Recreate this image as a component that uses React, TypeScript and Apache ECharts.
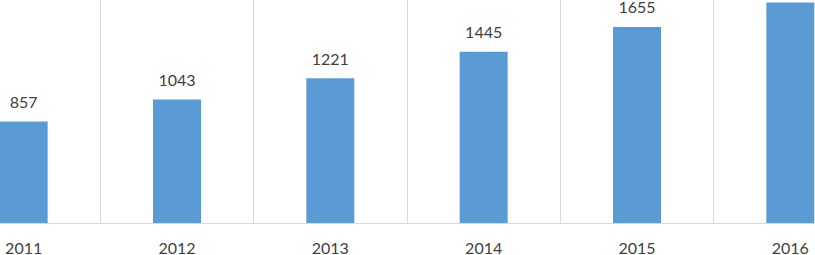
import React, { useEffect, useRef } from "react";
import * as echarts from "echarts";

const categories = ["2011", "2012", "2013", "2014", "2015", "2016"];
const values = [857, 1043, 1221, 1445, 1655, 1860];

export default function App() {
  const ref = useRef<HTMLDivElement>(null);
  useEffect(() => {
    if (!ref.current) return;
    const chart = echarts.init(ref.current, undefined, { renderer: "svg" });
    chart.setOption({
      animation: false,
      backgroundColor: "#ffffff",
      grid: { left: 0, right: 0, top: 0, bottom: 32, containLabel: false },
      xAxis: {
        type: "category",
        data: categories,
        boundaryGap: true,
        axisLine: { show: true, lineStyle: { color: "#d9d9d9", width: 1 } },
        axisTick: { show: false },
        splitLine: { show: true, lineStyle: { color: "#d9d9d9", width: 1 } },
        axisLabel: {
          color: "#404040",
          fontFamily: "Lato",
          fontSize: 16,
          margin: 16,
        },
      },
      yAxis: {
        type: "value",
        min: 0,
        max: 2000,
        show: false,
        splitLine: { show: false },
      },
      series: [
        {
          type: "bar",
          data: values,
          barWidth: 48,
          itemStyle: { color: "#5b9bd5" },
          label: {
            show: true,
            position: "top",
            distance: 12,
            color: "#404040",
            fontFamily: "Lato",
            fontSize: 16,
          },
        },
      ],
    });
    return () => chart.dispose();
  }, []);
  return (
    <div
      style={{
        position: "fixed",
        left: 0,
        top: 0,
        width: 815,
        height: 255,
        overflow: "hidden",
        background: "#ffffff",
      }}
    >
      <div
        ref={ref}
        style={{ position: "absolute", left: -53, top: -14, width: 920, height: 269 }}
      />
    </div>
  );
}
